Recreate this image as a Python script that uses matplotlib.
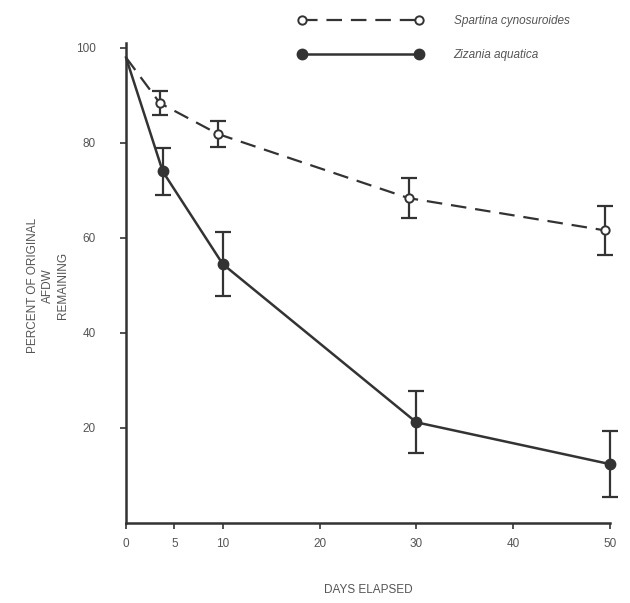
import matplotlib.pyplot as plt
import matplotlib as mpl

mpl.rcParams["font.family"] = ["Liberation Sans", "DejaVu Sans"]

# Spartina cynosuroides (open circles, dashed)
days_sc = [0, 3.5, 9.5, 29.2, 49.5]
pct_sc = [98, 88.4, 81.9, 68.4, 61.6]
err_sc = [0, 2.5, 2.7, 4.2, 5.2]

# Zizania aquatica (filled circles, solid)
days_za = [0, 3.8, 10, 30, 50]
pct_za = [98, 74, 54.5, 21.2, 12.4]
err_za = [0, 4.9, 6.8, 6.5, 7.0]

xticks = [0, 5, 10, 20, 30, 40, 50]
yticks = [20, 40, 60, 80, 100]

ink = "#333333"
txt = "#555555"

fig = plt.figure(figsize=(6.3, 6.03), dpi=100)
ax = fig.add_axes([0.2, 0.1327, 0.768, 0.7877])

for x, y, e in [(days_sc, pct_sc, err_sc), (days_za, pct_za, err_za)]:
    eb = ax.errorbar(x[1:], y[1:], yerr=e[1:], fmt="none", ecolor=ink,
                     elinewidth=1.6, capsize=6, capthick=1.6, zorder=2)
    for art in eb.lines[1] + eb.lines[2]:
        art.set_clip_on(False)

ax.plot(days_sc, pct_sc, color=ink, lw=1.6, dashes=(7, 4),
        marker="o", markersize=6, markerfacecolor="white",
        markeredgecolor=ink, markeredgewidth=1.4, markevery=[1, 2, 3, 4],
        zorder=3, clip_on=False)
ax.plot(days_za, pct_za, color=ink, lw=1.8,
        marker="o", markersize=7.5, markerfacecolor=ink,
        markeredgecolor=ink, markevery=[1, 2, 3, 4], zorder=3, clip_on=False)

# legend handles (markers at both ends)
h1, = ax.plot([], [], color=ink, lw=1.6, dashes=(7, 4), marker="o",
              markersize=6, markerfacecolor="white", markeredgecolor=ink,
              markeredgewidth=1.4)
h2, = ax.plot([], [], color=ink, lw=1.8, marker="o", markersize=7.5,
              markerfacecolor=ink, markeredgecolor=ink)
fig.legend([h1, h2], ["Spartina cynosuroides", "Zizania aquatica"],
           loc="upper left", bbox_to_anchor=(0.465, 0.985),
           bbox_transform=fig.transFigure, frameon=False, numpoints=2,
           handlelength=10.5, handletextpad=2.6, labelspacing=1.9,
           borderpad=0, prop={"style": "italic", "size": 8.5},
           labelcolor=txt)

ax.set_xlim(0, 50)
ax.set_ylim(0, 100)
ax.set_xticks(xticks)
ax.set_yticks(yticks)
ax.tick_params(direction="out", length=4, width=1.2, colors=ink,
               labelcolor=txt, labelsize=8.5)
ax.tick_params(axis="y", pad=18)
ax.tick_params(axis="x", pad=7)
for s in ["top", "right"]:
    ax.spines[s].set_visible(False)
for s in ["left", "bottom"]:
    ax.spines[s].set_color(ink)
    ax.spines[s].set_linewidth(1.8)
ax.spines["left"].set_bounds(0, 101)

ax.set_xlabel("DAYS ELAPSED", color=txt, fontsize=8.5, labelpad=24)
ax.set_ylabel("PERCENT OF ORIGINAL\nAFDW\nREMAINING", color=txt,
              fontsize=8.5, labelpad=5, linespacing=1.3,
              multialignment="center")

fig.savefig("out.png", dpi=100)
